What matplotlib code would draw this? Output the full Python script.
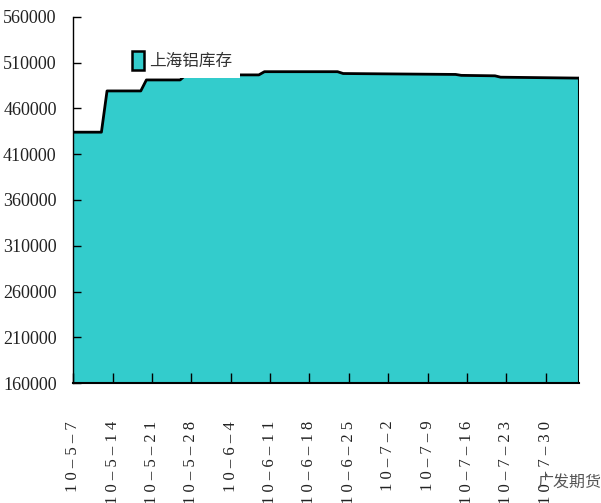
import matplotlib
matplotlib.use('Agg')
import matplotlib.pyplot as plt
import pandas as pd
from matplotlib.patches import Patch

# 上海铝库存 (吨)
dates = ['2010-05-07', '2010-05-12', '2010-05-13', '2010-05-19', '2010-05-20',
         '2010-05-26', '2010-05-27', '2010-06-09', '2010-06-10', '2010-06-23',
         '2010-06-24', '2010-07-14', '2010-07-15', '2010-07-21', '2010-07-22',
         '2010-08-05']
stock = [434000, 434000, 479000, 479000, 491000,
         491000, 496500, 496500, 500000, 500000,
         498000, 497000, 496000, 495500, 494000,
         493000]

tick_dates = ['2010-05-07', '2010-05-14', '2010-05-21', '2010-05-28', '2010-06-04',
              '2010-06-11', '2010-06-18', '2010-06-25', '2010-07-02', '2010-07-09',
              '2010-07-16', '2010-07-23', '2010-07-30']
tick_labels = ['10-5-7', '10-5-14', '10-5-21', '10-5-28', '10-6-4',
               '10-6-11', '10-6-18', '10-6-25', '10-7-2', '10-7-9',
               '10-7-16', '10-7-23', '10-7-30']
y_ticks = [160000, 210000, 260000, 310000, 360000, 410000, 460000, 510000, 560000]

start = pd.Timestamp(dates[0])
x = (pd.to_datetime(dates) - start).days
xt = (pd.to_datetime(tick_dates) - start).days

fig = plt.figure(figsize=(6.01, 5.03), dpi=100)
ax = fig.add_axes([73.3 / 601, (503 - 383.3) / 503, 506 / 601, 366.6 / 503])

teal = '#33CCCC'
ax.fill_between(x, stock, 160000, facecolor=teal, edgecolor='none', zorder=1)
ax.plot(x, stock, color='black', lw=2, zorder=2)
ax.plot([x[-1], x[-1]], [160000, stock[-1]], color='black', lw=1.5, zorder=2)

ax.set_xlim(0, x[-1])
ax.set_ylim(160000, 560000)
ax.set_yticks(y_ticks)
ax.set_yticklabels([str(v) for v in y_ticks], family='Liberation Serif', fontsize=13, color='#222222')
ax.set_xticks(xt)
ax.set_xticklabels([' '.join(t.replace('-', '–')) for t in tick_labels], family='Liberation Serif',
                   fontsize=12, rotation=90, va='top', ha='center', color='#222222')

ax.tick_params(axis='y', direction='in', length=6, width=1, pad=12)
ax.tick_params(axis='x', direction='in', length=7, width=1, pad=27)
for s in ['top', 'right']:
    ax.spines[s].set_visible(False)
ax.spines['left'].set_linewidth(1)
ax.spines['bottom'].set_linewidth(1.5)

h = Patch(facecolor=teal, edgecolor='black', linewidth=1.8)
leg = ax.legend([h], ['上海铝库存'], loc='upper left', bbox_to_anchor=(0.100, 0.928),
                prop={'family': ['Noto Sans CJK SC', 'DejaVu Sans'], 'size': 12},
                frameon=True, fancybox=False, framealpha=1, edgecolor='white',
                handlelength=0.7, handleheight=1.3, handletextpad=0.3,
                borderpad=0.5, borderaxespad=0)
leg.get_frame().set_linewidth(0)
for t in leg.get_texts():
    t.set_color('#333333')
leg.set_zorder(5)

fig.text(537 / 601, 1 - 492 / 503, '广发期货', family=['Noto Sans CJK SC', 'DejaVu Sans'],
         fontsize=11.5, color='#555555', ha='left', va='bottom')

fig.savefig('out.png', dpi=100)
